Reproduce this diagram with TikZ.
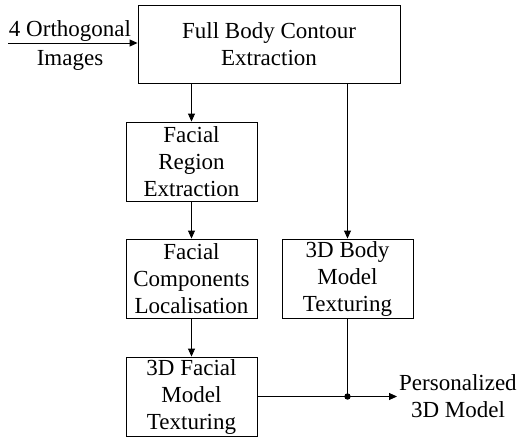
\documentclass[tikz,border=0pt]{standalone}
\usepackage{fontspec}
\setmainfont{Liberation Serif}
\usetikzlibrary{arrows.meta}
\begin{document}
\begin{tikzpicture}[x=1pt,y=1pt,
  every node/.style={font=\fontsize{23}{27}\selectfont},
  blk/.style={draw, line width=0.9pt, align=center, inner sep=0pt},
  conn/.style={line width=0.9pt, -{Triangle[length=8pt,width=7pt]}},
  plain/.style={line width=0.9pt}]
\useasboundingbox (0,0) rectangle (520,-437);
\node[blk, minimum width=262, minimum height=78] (fb) at (269,-44) {Full Body Contour\\Extraction};
\node[blk, minimum width=131, minimum height=79] (fr) at (191.5,-161.5) {Facial\\Region\\Extraction};
\node[blk, minimum width=131, minimum height=79] (fc) at (191.5,-278.5) {Facial\\Components\\Localisation};
\node[blk, minimum width=131, minimum height=79] (ff) at (191.5,-396.5) {3D Facial\\Model\\Texturing};
\node[blk, minimum width=131, minimum height=79] (bm) at (347.5,-278.5) {3D Body\\Model\\Texturing};
\coordinate (in) at (8,-43);
\node[anchor=base, inner sep=0pt] (t1) at (70,-36) {4 Orthogonal};
\node[anchor=base, inner sep=0pt] (t2) at (70,-65) {Images};
\draw[conn] (in) -- (in -| fb.west);
\draw[conn] (fb.south -| fr.north) -- (fr.north);
\draw[conn] (fr) -- (fc);
\draw[conn] (fc) -- (ff);
\draw[conn] (fb.south -| bm.north) -- (bm.north);
\coordinate (j) at (bm.south |- ff.east);
\coordinate (out) at (397,-396.5);
\draw[plain] (bm.south) -- (j);
\fill (j) circle (3.2);
\draw[conn] (ff.east) -- (out);
\node[anchor=west, align=center, inner sep=2pt] (res) at (out) {Personalized\\3D Model};
\end{tikzpicture}
\end{document}
